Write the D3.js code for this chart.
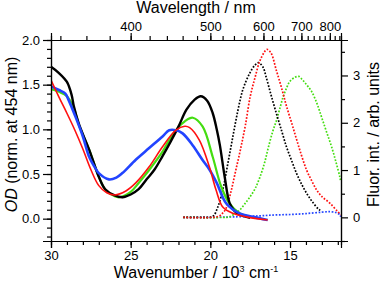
<!DOCTYPE html>
<html lang="en">
<head>
    <meta charset="UTF-8">
    <title>Absorption and fluorescence</title>
    <script src="https://d3js.org/d3.v7.min.js"></script>
    <style>
        body { margin: 0; background: #fff; }
        text { font-family: "Liberation Sans", Arial, sans-serif; }
    </style>
</head>
<body>
    <div class="chart"></div>
    <script>
        // wavenumber in 10^3 cm^-1
        const absBlack = [[30,1.70],[29.5,1.63],[29.0,1.53],[28.7,1.38],[28.57,1.26],[28.25,1.06],[27.6,0.77],[27.0,0.47],[26.6,0.33],[26.0,0.26],[25.5,0.24],[25.0,0.27],[24.5,0.33],[24.0,0.44],[23.5,0.55],[23.0,0.70],[22.5,0.86],[22.0,1.03],[21.5,1.22],[21.0,1.33],[20.6,1.37],[20.2,1.32],[19.85,1.18],[19.6,1.0],[19.4,0.82],[19.1,0.47],[18.8,0.18],[18.5,0.09],[18.2,0.05],[17.5,0.01]];
        const absGreen = [[30,1.45],[29.5,1.42],[29.0,1.37],[28.57,1.24],[28.25,1.05],[27.6,0.77],[27.0,0.47],[26.57,0.32],[26.0,0.25],[25.7,0.24],[25.0,0.30],[24.5,0.40],[23.84,0.545],[23.0,0.75],[22.58,0.88],[22.16,0.99],[21.6,1.09],[21.1,1.13],[20.48,1.03],[19.85,0.69],[19.32,0.36],[18.8,0.17],[18.17,0.06],[17.5,0.02]];
        const absRed = [[30,1.55],[29.5,1.36],[29.0,1.18],[28.5,0.99],[28.0,0.78],[27.5,0.55],[27.0,0.37],[26.5,0.29],[26.0,0.265],[25.3,0.31],[24.68,0.40],[23.84,0.58],[23.0,0.805],[22.16,0.99],[21.6,1.035],[21.3,1.02],[20.69,0.88],[20.06,0.58],[19.64,0.32],[19.22,0.13],[18.59,0.06],[17.74,0.02],[16.4,-0.015]];
        const absBlue = [[30,1.48],[29.5,1.44],[29.1,1.40],[28.9,1.33],[28.46,1.14],[28.0,0.92],[27.6,0.69],[27.2,0.56],[27.0,0.51],[26.36,0.44],[25.9,0.46],[25.52,0.51],[24.68,0.66],[23.84,0.79],[23.0,0.92],[22.58,0.99],[22.16,0.99],[21.74,0.955],[21.1,0.82],[20.5,0.66],[20.06,0.55],[19.6,0.40],[19.0,0.17],[18.17,0.06],[17.33,0.02],[16.4,-0.015]];

        const flBlack = [[21.7,0],[20.5,0],[19.85,0.02],[19.53,0.22],[19.22,0.58],[18.9,1.14],[18.59,1.70],[18.27,2.26],[17.96,2.7],[17.54,3.04],[17.2,3.22],[16.97,3.27],[16.7,3.18],[16.5,2.97],[16.2,2.6],[15.85,2.19],[15.5,1.8],[15.22,1.49],[14.9,1.2],[14.59,0.93],[14.27,0.7],[13.96,0.51],[13.6,0.33],[13.23,0.18],[13.1,0.15]];
        const flRed = [[21.7,0],[19.5,0.02],[19.2,0.1],[19.0,0.2],[18.7,0.55],[18.4,1.0],[18.1,1.45],[17.8,1.95],[17.5,2.55],[17.2,2.95],[16.9,3.3],[16.6,3.5],[16.44,3.55],[16.2,3.48],[15.85,3.1],[15.5,2.7],[15.22,2.35],[14.9,2.0],[14.59,1.65],[14.27,1.3],[13.96,1.0],[13.65,0.78],[13.33,0.58],[13.0,0.44],[12.5,0.3],[12.0,0.12],[11.8,0.05]];
        const flGreen = [[21.7,0],[19.0,0],[18.8,0.01],[18.5,0.07],[18.17,0.15],[17.85,0.28],[17.54,0.42],[17.2,0.6],[16.9,0.84],[16.6,1.15],[16.38,1.45],[16.1,1.8],[15.85,2.05],[15.6,2.35],[15.44,2.54],[15.2,2.75],[15.02,2.87],[14.7,2.96],[14.45,2.98],[14.2,2.9],[13.9,2.78],[13.64,2.66],[13.3,2.4],[13.0,2.1],[12.7,1.8],[12.38,1.48],[12.1,1.15],[11.87,0.85],[11.82,0.75]];
        const flBlue = [[21.7,0],[20,0],[18.5,0.01],[17,0.03],[16,0.05],[15,0.06],[14,0.08],[13,0.11],[12.5,0.12],[12.1,0.1],[11.85,0.05],[11.82,0.01]];

        const xMajor = [30, 25, 20, 15];
        const xMinor = d3.range(12, 30, 1);
        const odMajor = [0, 0.5, 1.0, 1.5, 2.0];
        const odMinor = d3.range(-0.2, 2.01, 0.1);
        const flMajor = [0, 1, 2, 3];
        const flMinor = [-0.5, 0.5, 1.5, 2.5, 3.5];
        const nmMajor = [400, 500, 600, 700, 800];
        const nmMinor = d3.range(340, 841, 20);

        const width = 381;
        const height = 282;
        const margin = { top: 40, right: 40, bottom: 41, left: 51 };

        const x = d3.scaleLinear()
            .domain([30, 11.8])
            .range([margin.left, width - margin.right]);
        const yOD = d3.scaleLinear()
            .domain([-0.25, 2.0])
            .range([height - margin.bottom, margin.top]);
        const yFl = d3.scaleLinear()
            .domain([-0.5, 3.75])
            .range([height - margin.bottom, margin.top]);

        const svg = d3.select('.chart')
            .append('svg')
            .attr('width', width)
            .attr('height', height);

        svg.append('clipPath').attr('id', 'plot')
            .append('rect')
            .attr('x', margin.left).attr('y', margin.top)
            .attr('width', width - margin.left - margin.right)
            .attr('height', height - margin.top - margin.bottom);

        const plot = svg.append('g').attr('clip-path', 'url(#plot)');

        const absLine = d3.line()
            .x(d => x(d[0])).y(d => yOD(d[1]))
            .curve(d3.curveCatmullRom.alpha(0.5));
        const flLine = d3.line()
            .x(d => x(d[0])).y(d => yFl(d[1]))
            .curve(d3.curveCatmullRom.alpha(0.5));

        const flSeries = [
            [flBlue, '#2244ff'],
            [flGreen, '#44dd11'],
            [flBlack, '#000000'],
            [flRed, '#ff1010']
        ];
        flSeries.forEach(s => {
            plot.append('path')
                .attr('d', flLine(s[0]))
                .attr('fill', 'none')
                .attr('stroke', s[1])
                .attr('stroke-width', 1.7)
                .attr('stroke-dasharray', '1.7,1.6');
        });

        const absSeries = [
            [absGreen, '#44dd11', 2.2],
            [absBlack, '#000000', 2.4],
            [absBlue, '#2244ff', 2.6],
            [absRed, '#ff1010', 1.6]
        ];
        absSeries.forEach(s => {
            plot.append('path')
                .attr('d', absLine(s[0]))
                .attr('fill', 'none')
                .attr('stroke', s[1])
                .attr('stroke-width', s[2])
                .attr('stroke-linejoin', 'round');
        });

        // axes
        function styleAxis(g) {
            g.selectAll('path, line').attr('stroke', '#000').attr('stroke-width', 1.2);
            g.selectAll('text').attr('font-size', 13).attr('fill', '#000')
                .style('font-family', '"Liberation Sans", Arial, sans-serif');
        }
        const bottomY = height - margin.bottom;
        const rightX = width - margin.right;

        svg.append('g').attr('transform', `translate(0,${bottomY})`)
            .call(d3.axisBottom(x).tickValues(xMinor).tickSize(4).tickFormat(''))
            .call(styleAxis);
        svg.append('g').attr('transform', `translate(0,${bottomY})`)
            .call(d3.axisBottom(x).tickValues(xMajor).tickSize(7).tickPadding(3).tickFormat(d3.format('d')))
            .call(styleAxis);

        const nm2wn = nm => 1e4 / nm;
        svg.append('g').attr('transform', `translate(0,${margin.top})`)
            .call(d3.axisTop(x).tickValues(nmMinor.map(nm2wn)).tickSize(4).tickFormat(''))
            .call(styleAxis);
        svg.append('g').attr('transform', `translate(0,${margin.top})`)
            .call(d3.axisTop(x).tickValues(nmMajor.map(nm2wn)).tickSize(7).tickPadding(2)
                .tickFormat(d => Math.round(1e4 / d)))
            .call(styleAxis);

        svg.append('g').attr('transform', `translate(${margin.left},0)`)
            .call(d3.axisLeft(yOD).tickValues(odMinor).tickSize(4).tickFormat(''))
            .call(styleAxis);
        svg.append('g').attr('transform', `translate(${margin.left},0)`)
            .call(d3.axisLeft(yOD).tickValues(odMajor).tickSize(8).tickPadding(3).tickFormat(d3.format('.1f')))
            .call(styleAxis);

        svg.append('g').attr('transform', `translate(${rightX},0)`)
            .call(d3.axisRight(yFl).tickValues(flMinor).tickSize(4).tickFormat(''))
            .call(styleAxis);
        svg.append('g').attr('transform', `translate(${rightX},0)`)
            .call(d3.axisRight(yFl).tickValues(flMajor).tickSize(7).tickPadding(5).tickFormat(d3.format('d')))
            .call(styleAxis);

        // axis titles
        svg.append('text')
            .attr('x', (margin.left + rightX) / 2).attr('y', 13)
            .attr('text-anchor', 'middle').attr('font-size', 16)
            .text('Wavelength / nm');

        const xt = svg.append('text')
            .attr('x', (margin.left + rightX) / 2).attr('y', 278)
            .attr('text-anchor', 'middle').attr('font-size', 16);
        xt.append('tspan').text('Wavenumber / 10');
        xt.append('tspan').attr('font-size', 9).attr('dy', -6).text('3');
        xt.append('tspan').attr('dy', 6).text(' cm');
        xt.append('tspan').attr('font-size', 9).attr('dy', -6).text('-1');

        const yt = svg.append('text')
            .attr('transform', `translate(17,${(margin.top + bottomY) / 2 - 6}) rotate(-90)`)
            .attr('text-anchor', 'middle').attr('font-size', 16);
        yt.append('tspan').attr('font-style', 'italic').text('OD');
        yt.append('tspan').text(' (norm. at 454 nm)');

        svg.append('text')
            .attr('transform', `translate(379,${(margin.top + bottomY) / 2 - 6}) rotate(-90)`)
            .attr('text-anchor', 'middle').attr('font-size', 16)
            .text('Fluor. int. / arb. units');
    </script>
</body>
</html>
